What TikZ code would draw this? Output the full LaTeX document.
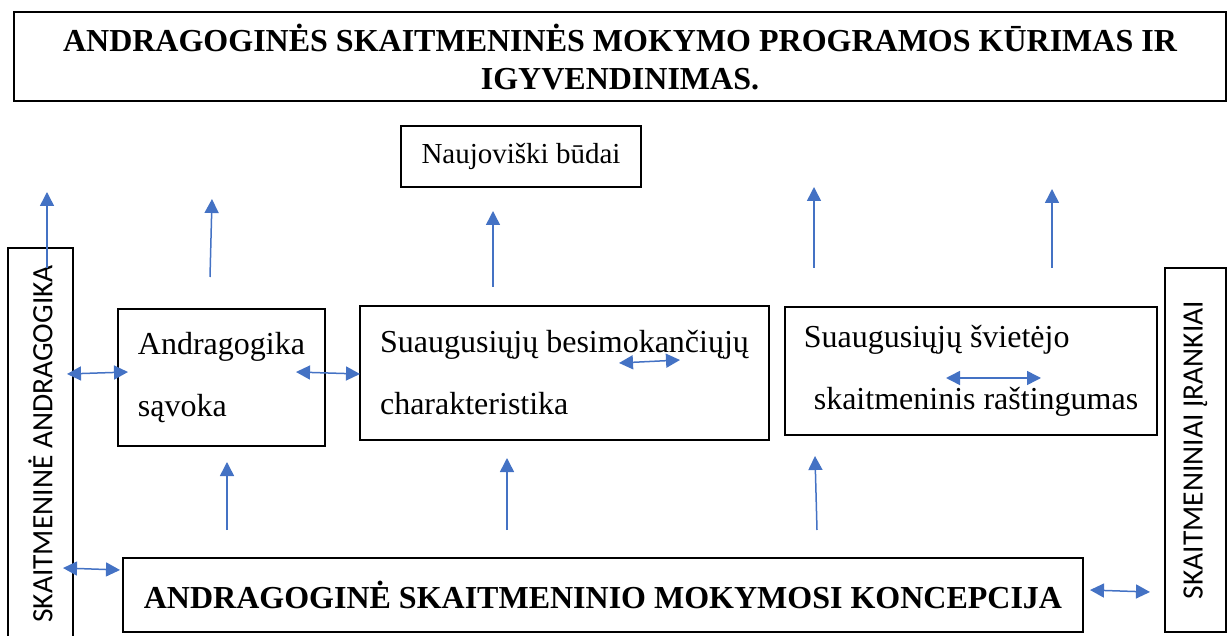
\documentclass[tikz,border=0pt]{standalone}
\usepackage{fontspec}
\setmainfont{Liberation Serif}
\newfontfamily\carlito{Carlito}
\usepackage{tikz}
\usetikzlibrary{arrows.meta}
\definecolor{bleufleche}{HTML}{4472C4}

\begin{document}
\begin{tikzpicture}[x=1pt,y=-1pt]
% définition des paramètres
\tikzstyle boite=[draw=black,line width=1.3pt,inner sep=0pt]
\tikzstyle texteboite=[font=\fontsize{32}{62}\selectfont,align=left]
\tikzstyle grandtitre=[font=\bfseries\fontsize{32}{38}\selectfont,align=center]
\tikzstyle vertical=[font=\carlito\fontsize{29.5}{30}\selectfont,rotate=90]
\tikzstyle fleche=[color=bleufleche,line width=1.5pt,-{Triangle[length=14pt,width=14pt]}]
\tikzstyle doublefleche=[color=bleufleche,line width=1.5pt,{Triangle[length=14pt,width=14pt]}-{Triangle[length=14pt,width=14pt]}]
\useasboundingbox (0,0) rectangle (1227,636);
% les boîtes
\node[boite,grandtitre,text depth=0pt,minimum width=1212pt,minimum height=89pt] (titre) at (620,56.5)
  {ANDRAGOGINĖS SKAITMENINĖS MOKYMO PROGRAMOS KŪRIMAS IR\\IGYVENDINIMAS.};
\node[boite,font=\fontsize{29}{30}\selectfont,minimum width=240pt,minimum height=61pt] (naujov) at (521,156.5) {Naujoviški būdai};
\node[boite,vertical,minimum width=392pt,minimum height=65pt] (skandr) at (40.5,444) {SKAITMENINĖ ANDRAGOGIKA};
\node[boite,vertical,minimum width=364pt,minimum height=61pt] (irank) at (1195.5,450) {SKAITMENINIAI ĮRANKIAI};
\node[boite,texteboite,minimum width=207pt,minimum height=137pt] (andrag) at (221.5,377.5)
  {Andragogika\\sąvoka};
\node[boite,texteboite,minimum width=409pt,minimum height=134pt] (charak) at (564.5,373)
  {Suaugusiųjų besimokančiųjų\\charakteristika};
\node[boite,texteboite,minimum width=372pt,minimum height=128pt] (svietej) at (971,371)
  {Suaugusiųjų švietėjo\\\hspace*{10pt}skaitmeninis raštingumas};
\node[boite,grandtitre,minimum width=960pt,minimum height=74pt] (koncep) at (603,595)
  {ANDRAGOGINĖ SKAITMENINIO MOKYMOSI KONCEPCIJA};
% les extrémités des flèches
\coordinate (h1a) at (47,268);   \coordinate (h1b) at (47,192);
\coordinate (h2a) at (210,277);  \coordinate (h2b) at (212,199);
\coordinate (h3a) at (493,287);  \coordinate (h3b) at (493,211);
\coordinate (h4a) at (814,268);  \coordinate (h4b) at (814,187);
\coordinate (h5a) at (1052,268); \coordinate (h5b) at (1052,189);
\coordinate (b1a) at (227,530);  \coordinate (b1b) at (227,462);
\coordinate (b2a) at (507,530);  \coordinate (b2b) at (507,458);
\coordinate (b3a) at (817,530);  \coordinate (b3b) at (815,456);
\coordinate (d1a) at (67,374);   \coordinate (d1b) at (128,372);
\coordinate (d2a) at (296,372);  \coordinate (d2b) at (360,374);
\coordinate (d3a) at (619,363);  \coordinate (d3b) at (680,360);
\coordinate (d4a) at (946,378);  \coordinate (d4b) at (1041,378);
\coordinate (d5a) at (63,568);   \coordinate (d5b) at (120,570);
\coordinate (d6a) at (1090,590); \coordinate (d6b) at (1150,592);
% les flèches
\foreach \f in {h1,h2,h3,h4,h5,b1,b2,b3}
  \draw[fleche] (\f a) -- (\f b);
\foreach \f in {d1,d2,d3,d4,d5,d6}
  \draw[doublefleche] (\f a) -- (\f b);
\end{tikzpicture}
\end{document}
